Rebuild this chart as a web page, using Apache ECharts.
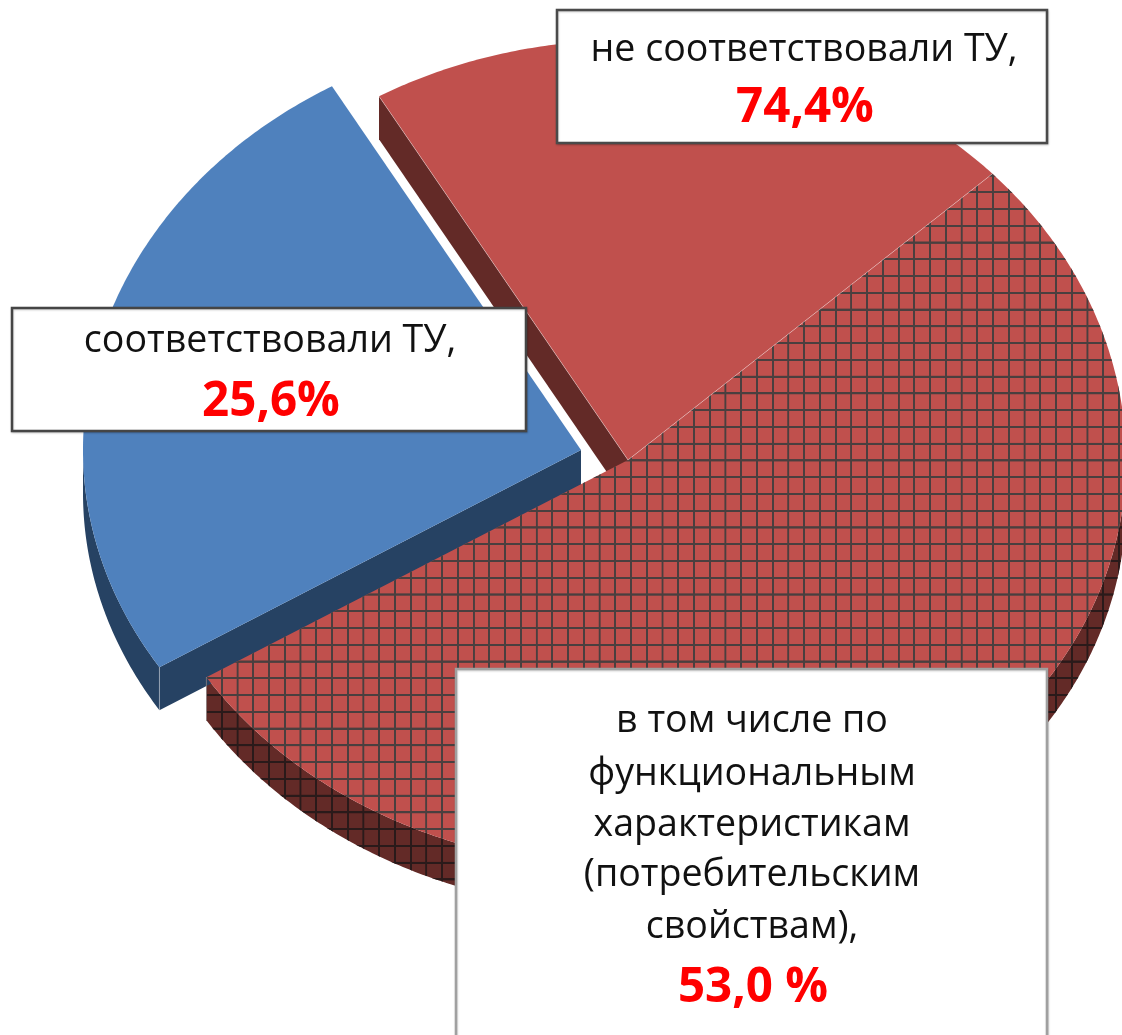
<!DOCTYPE html>
<html><head><meta charset="utf-8">
<style>html,body{margin:0;padding:0;background:#fff;overflow:hidden}#c{width:1122px;height:1035px;filter:blur(0.45px)}</style>
<script src="https://cdn.jsdelivr.net/npm/echarts@6/dist/echarts.min.js"></script>
</head><body><div id="c"></div>
<script>
// data (drawn clockwise, blue first)
const sliceNames = ['соответствовали ТУ', 'не соответствовали ТУ (прочие)', 'в том числе по функциональным характеристикам'];
const sliceValues = [25.6, 21.4, 53.0];
const labelLines = [
  ['не соответствовали ТУ,'],
  ['соответствовали ТУ,'],
  ['в том числе по', 'функциональным', 'характеристикам', '(потребительским', 'свойствам),']
];
const labelValues = ['74,4%', '25,6%', '53,0 %'];

// layout
const CX = 628, CY = 460, RX = 498, RY_UP = 420, RY_DOWN = 408, DEPTH = 43;
const START_DEG = 120 + sliceValues[0] * 3.6;
const sliceOffsets = [[-47, -10], [0, 0], [0, 0]];
const topColors = ['#4f81bd', '#c0504d', '#c0504d'];
const wallColors = ['#264263', '#632a27', '#632a27'];
const boxes = [
  {x: 557, y: 10, w: 490, h: 133, stroke: '#4a4a4a', cx: 804, lineY: [50], valueY: 108},
  {x: 12, y: 308, w: 514, h: 123, stroke: '#454545', cx: 270, lineY: [341], valueY: 402},
  {x: 456, y: 669, w: 591, h: 380, stroke: '#a0a0a0', cx: 752, lineY: [721, 774, 825, 875, 927], valueY: 988}
];

function gridPattern(line) {
  const cv = document.createElement('canvas');
  cv.width = cv.height = 64;
  const g = cv.getContext('2d');
  g.strokeStyle = line; g.lineWidth = 8;
  g.beginPath(); g.moveTo(32, 0); g.lineTo(32, 64); g.moveTo(0, 32); g.lineTo(64, 32); g.stroke();
  const sx = 15.74, sy = 16.76;
  return {image: cv, repeat: 'repeat', x: 977.3 - sx / 2, y: 510.7 - sy / 2, scaleX: sx / 64, scaleY: sy / 64};
}
const hatchTop = gridPattern('#4a3f3f');
const hatchWall = gridPattern('#2a1a1a');

function pt(deg, off, dy) {
  const a = deg * Math.PI / 180, s = Math.sin(a);
  return [CX + off[0] + RX * Math.cos(a), CY + off[1] + dy - s * (s > 0 ? RY_UP : RY_DOWN)];
}
function arc(a, b, off, dy) {
  const out = [], n = Math.max(2, Math.ceil(Math.abs(a - b) * 2));
  for (let i = 0; i <= n; i++) out.push(pt(a + (b - a) * i / n, off, dy));
  return out;
}
function poly(points, fill, z2) {
  return {type: 'polygon', z2: z2 || 0, shape: {points}, style: {fill, stroke: null}};
}
function edge(p, q) {
  return {type: 'line', z2: 5, shape: {x1: p[0], y1: p[1], x2: q[0], y2: q[1]}, style: {stroke: 'rgba(255,255,255,0.35)', lineWidth: 1, fill: null}};
}

function renderSlice(params, api) {
  const i = params.dataIndex;
  let before = 0;
  for (let k = 0; k < i; k++) before += sliceValues[k];
  const a0 = START_DEG - before * 3.6, a1 = a0 - api.value(0) * 3.6;
  const off = sliceOffsets[i];
  const apex = [CX + off[0], CY + off[1]];
  const apexLow = [apex[0], apex[1] + DEPTH];
  const hatched = i === 2;
  const top = hatched ? hatchTop : topColors[i];
  const kids = [];

  // outer wall: only the part of the rim on the lower half faces the viewer
  const wallRanges = [];
  if (a0 > 180) wallRanges.push([a0, Math.max(a1, 180)]);
  if (a0 <= 0 || a1 < 0) wallRanges.push([Math.min(a0, 0), Math.max(a1, -180)]);
  wallRanges.forEach(r => {
    const up = arc(r[0], r[1], off, 0), low = arc(r[0], r[1], off, DEPTH).reverse();
    const pts = up.concat(low);
    kids.push(poly(pts, wallColors[i], 0));
    if (hatched) kids.push(poly(pts, hatchWall, 1));
  });

  // cut faces towards the viewer
  if (i === 0) {
    const p = pt(a0, off, 0), q = pt(a0, off, DEPTH);
    kids.push(poly([apex, p, q, apexLow], wallColors[i], 1));
    kids.push(edge(p, q));
  }
  if (i === 1) {
    const p = pt(a0, off, 0), q = pt(a0, off, DEPTH);
    kids.push(poly([apex, p, q, apexLow], wallColors[i], 1));
  }

  // top surface
  const pts = [apex].concat(arc(a0, a1, off, 0));
  if (hatched) kids.push(poly(pts, topColors[i], 2));
  kids.push(poly(pts, top, 3));
  if (i === 1) { kids.push(edge(apex, pt(a0, off, 0))); kids.push(edge(apex, pt(a1, off, 0))); }
  if (hatched) { const p = pt(a1, off, 0); kids.push(edge(p, pt(a1, off, DEPTH))); }
  return {type: 'group', children: kids};
}

const graphics = [];
boxes.forEach((b, i) => {
  graphics.push({type: 'rect', z: 100, shape: {x: b.x, y: b.y, width: b.w, height: b.h},
    style: {fill: '#fff', stroke: b.stroke, lineWidth: 2.5, shadowBlur: 2, shadowOffsetX: 0.5, shadowOffsetY: 1, shadowColor: 'rgba(0,0,0,0.2)'}});
  labelLines[i].forEach((t, k) => graphics.push({type: 'text', z: 101,
    style: {text: t, x: b.cx, y: b.lineY[k], align: 'center', verticalAlign: 'middle', fill: '#111',
      font: '37.6px "Open Sans", "Noto Sans", sans-serif'}}));
  graphics.push({type: 'text', z: 101,
    style: {text: labelValues[i], x: b.cx + 1, y: b.valueY, align: 'center', verticalAlign: 'middle', fill: '#ff0000',
      font: 'bold 47.5px "Open Sans", "Noto Sans", sans-serif'}});
});

const chart = echarts.init(document.getElementById('c'), null, {renderer: 'canvas'});
chart.setOption({
  animation: false,
  backgroundColor: '#ffffff',
  series: [{
    type: 'custom',
    coordinateSystem: 'none',
    silent: true,
    renderItem: renderSlice,
    data: sliceValues.map((v, i) => ({name: sliceNames[i], value: [v]}))
  }],
  graphic: {elements: graphics}
});
</script></body></html>
